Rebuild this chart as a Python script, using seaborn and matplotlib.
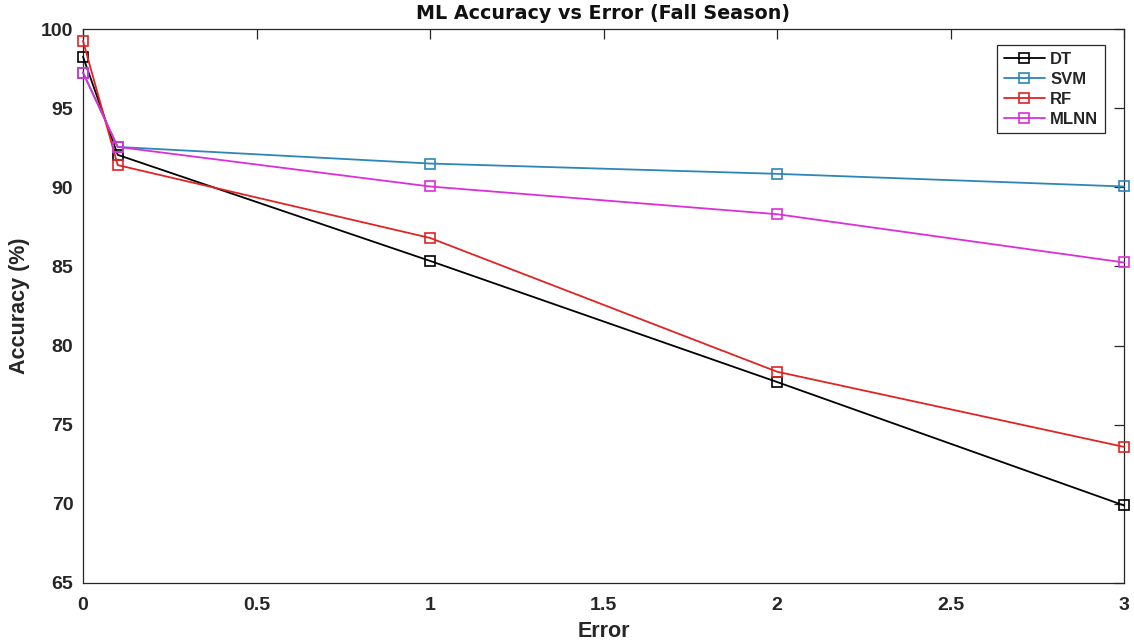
import matplotlib
matplotlib.use("Agg")
import matplotlib.pyplot as plt
import seaborn as sns
import pandas as pd

# Accuracy (%) of each model at increasing error levels
error = [0, 0.1, 1, 2, 3]
dt_acc = [98.25, 92.05, 85.35, 77.7, 69.9]
svm_acc = [97.25, 92.55, 91.5, 90.85, 90.05]
rf_acc = [99.25, 91.4, 86.8, 78.35, 73.6]
mlnn_acc = [97.25, 92.55, 90.05, 88.3, 85.25]

models = ["DT", "SVM", "RF", "MLNN"]
series = [dt_acc, svm_acc, rf_acc, mlnn_acc]
colors = ["#000000", "#2C86B8", "#E02424", "#DA2FDA"]

xticks = [0, 0.5, 1, 1.5, 2, 2.5, 3]
xtick_labels = ["0", "0.5", "1", "1.5", "2", "2.5", "3"]
yticks = [65, 70, 75, 80, 85, 90, 95, 100]

sns.set_style("white")
plt.rcParams["font.family"] = ["Liberation Sans", "DejaVu Sans"]
plt.rcParams["font.weight"] = "bold"

fig = plt.figure(figsize=(11.34, 6.44), dpi=100)
ax = fig.add_axes([83 / 1134, 61 / 644, 1041 / 1134, 554 / 644])

for name, vals, col in zip(models, series, colors):
    df = pd.DataFrame({"Error": error, "Accuracy": vals})
    sns.lineplot(data=df, x="Error", y="Accuracy", ax=ax, color=col,
                 marker="s", markersize=7, markerfacecolor="none",
                 markeredgecolor=col, markeredgewidth=1.2,
                 linewidth=1.3, label=name, sort=False, clip_on=False)

ax.set_xlim(0, 3)
ax.set_ylim(65, 100)
ax.set_xticks(xticks)
ax.set_xticklabels(xtick_labels)
ax.set_yticks(yticks)

edge = "#262626"
for s in ax.spines.values():
    s.set_visible(True)
    s.set_color(edge)
    s.set_linewidth(0.9)
    s.set_zorder(1)

ax.tick_params(direction="in", length=7, width=0.9, color=edge,
               top=True, right=True, labelsize=14, labelcolor=edge)
ax.tick_params(axis="x", pad=10)
ax.tick_params(axis="y", pad=7)
for lab in ax.get_xticklabels() + ax.get_yticklabels():
    lab.set_fontweight("bold")

ax.set_title("ML Accuracy vs Error (Fall Season)", fontsize=13.8,
             fontweight="bold", color="#111111", pad=7,
             family=["DejaVu Sans"])
ax.set_xlabel("Error", fontsize=15.5, fontweight="bold", color=edge, labelpad=5)
ax.set_ylabel("Accuracy (%)", fontsize=15.5, fontweight="bold", color=edge, labelpad=8)

leg = ax.legend(loc="upper right", bbox_to_anchor=(1105 / 1134, 599 / 644),
                bbox_transform=fig.transFigure, borderaxespad=0,
                fancybox=False, framealpha=1, edgecolor="#262626",
                prop={"weight": "bold", "size": 12}, handlelength=2.5,
                handletextpad=0.3, labelspacing=0.3, borderpad=0.4)
leg.get_frame().set_linewidth(0.9)

fig.savefig("out.png", dpi=100, facecolor="white")
